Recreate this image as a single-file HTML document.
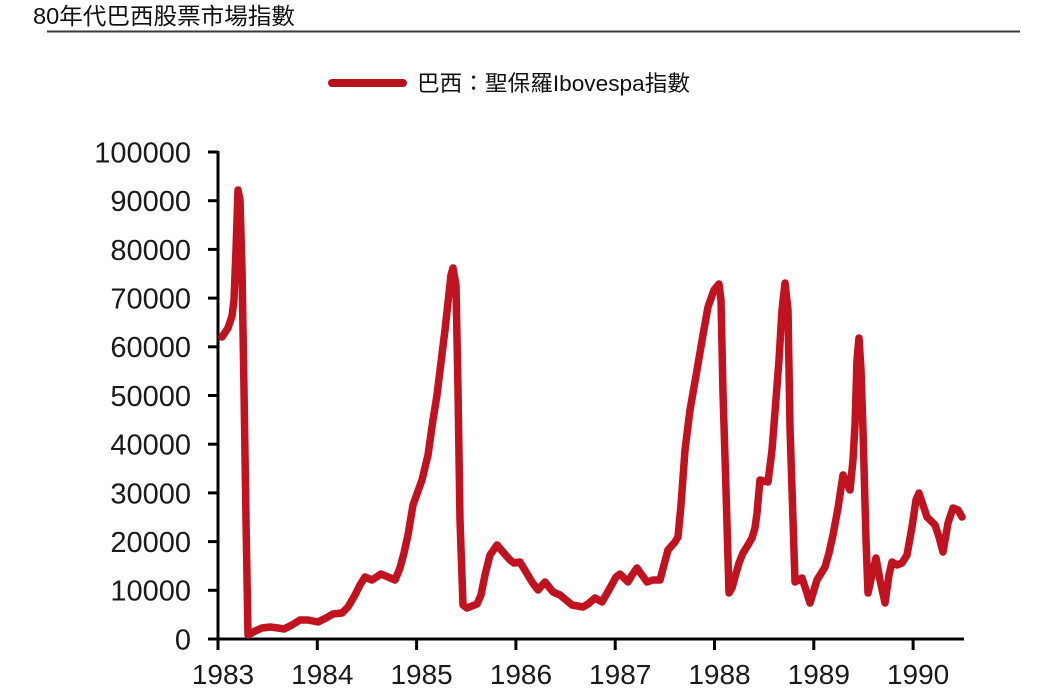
<!DOCTYPE html>
<html>
<head>
<meta charset="utf-8">
<style>
html,body{margin:0;padding:0;background:#fff;}
svg{display:block;}
</style>
</head>
<body>
<svg width="1062" height="688" viewBox="0 0 1062 688" xmlns="http://www.w3.org/2000/svg">
<rect width="1062" height="688" fill="#ffffff"/>
<!-- Title -->
<text x="33" y="24" font-family="'Liberation Sans','Noto Sans CJK TC',sans-serif" font-size="23" fill="#111" textLength="262" lengthAdjust="spacingAndGlyphs">80年代巴西股票市場指數</text>
<line x1="47" y1="31.5" x2="1020" y2="31.5" stroke="#3a3a3a" stroke-width="2"/>
<!-- Legend -->
<line x1="332" y1="83" x2="403" y2="83" stroke="#b5121b" stroke-width="8" stroke-linecap="round"/>
<text x="417" y="91" font-family="'Liberation Sans','Noto Sans CJK TC',sans-serif" font-size="22" fill="#111" textLength="273" lengthAdjust="spacingAndGlyphs">巴西：聖保羅Ibovespa指數</text>
<!-- Axes -->
<g stroke="#000" stroke-width="3" fill="none">
<line x1="218" y1="151" x2="218" y2="650"/>
<line x1="208" y1="639" x2="964" y2="639"/>
<line x1="208" y1="152" x2="218" y2="152"/>
<line x1="208" y1="200.7" x2="218" y2="200.7"/>
<line x1="208" y1="249.4" x2="218" y2="249.4"/>
<line x1="208" y1="298.1" x2="218" y2="298.1"/>
<line x1="208" y1="346.8" x2="218" y2="346.8"/>
<line x1="208" y1="395.5" x2="218" y2="395.5"/>
<line x1="208" y1="444.2" x2="218" y2="444.2"/>
<line x1="208" y1="492.9" x2="218" y2="492.9"/>
<line x1="208" y1="541.6" x2="218" y2="541.6"/>
<line x1="208" y1="590.3" x2="218" y2="590.3"/>
<line x1="317.3" y1="639" x2="317.3" y2="650"/>
<line x1="416.6" y1="639" x2="416.6" y2="650"/>
<line x1="515.9" y1="639" x2="515.9" y2="650"/>
<line x1="615.2" y1="639" x2="615.2" y2="650"/>
<line x1="714.5" y1="639" x2="714.5" y2="650"/>
<line x1="813.8" y1="639" x2="813.8" y2="650"/>
<line x1="913.1" y1="639" x2="913.1" y2="650"/>
</g>
<!-- Y labels -->
<g font-family="'Liberation Sans',sans-serif" font-size="29" fill="#1a1a1a" text-anchor="end">
<text x="191" y="162.4">100000</text>
<text x="191" y="211.1">90000</text>
<text x="191" y="259.8">80000</text>
<text x="191" y="308.5">70000</text>
<text x="191" y="357.2">60000</text>
<text x="191" y="405.9">50000</text>
<text x="191" y="454.6">40000</text>
<text x="191" y="503.3">30000</text>
<text x="191" y="552">20000</text>
<text x="191" y="600.7">10000</text>
<text x="191" y="649.4">0</text>
</g>
<!-- X labels -->
<g font-family="'Liberation Sans',sans-serif" font-size="28" fill="#1a1a1a" text-anchor="middle">
<text x="223" y="684">1983</text>
<text x="322.3" y="684">1984</text>
<text x="421.6" y="684">1985</text>
<text x="520.9" y="684">1986</text>
<text x="620.2" y="684">1987</text>
<text x="719.5" y="684">1988</text>
<text x="818.8" y="684">1989</text>
<text x="918.1" y="684">1990</text>
</g>
<!-- Series -->
<polyline fill="none" stroke="#c1121f" stroke-width="7.5" stroke-linejoin="round" stroke-linecap="round" points="
222,337 228,328 232,316 234,300 236,250 238,190 240,200 242,270 244,390 246,520 248,635
255,631 262,628 270,627 278,628 284,629 292,625 300,620 308,620 318,622 326,618 333,614 342,613
348,607 355,595 360,585 365,577 372,580 381,574 388,577 395,580 400,568 404,553 408,535 413,505
422,480 428,455 433,420 437,395 445,330 451,275 453,268 456,285 458,390 460,520 463,605 467,608
477,604 481,595 485,575 490,555 497,545 503,552 510,560 514,563 520,562 526,572 532,582 538,590
545,582 553,592 560,595 566,600 572,605 583,607 588,604 595,598 602,602 610,588 616,577 620,574
624,578 628,582 632,575 637,568 642,575 647,582 653,580 660,580 664,565 668,550 675,542 678,537
681,505 685,450 690,410 697,370 703,335 708,307 714,290 719,284 721,300 723,393 726,490 729,593
732,588 735,577 739,563 743,553 748,545 752,538 755,528 757,513 760,480 768,482 772,450 775,412
779,360 782,310 785,283 788,310 790,427 793,520 795,582 802,578 806,590 810,603 814,590 817,580
825,567 829,553 833,535 838,508 843,475 850,490 853,460 855,425 857,360 859,338 861,370 863,430
866,540 868,593 872,575 876,558 880,580 885,603 889,575 892,562 897,565 902,563 907,555 912,527
916,500 919,493 923,505 927,517 935,525 939,537 943,552 946,535 948,523 953,508 958,510 962,517"/>
</svg>
</body>
</html>
